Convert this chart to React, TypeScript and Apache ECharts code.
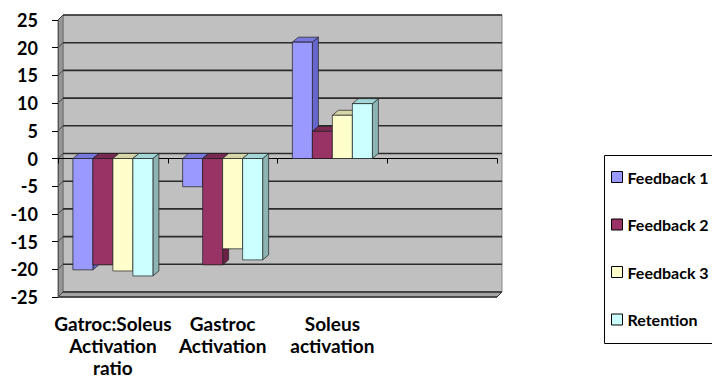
import React, { useEffect, useRef } from 'react';
import * as echarts from 'echarts';

const categories = ['Gatroc:Soleus\nActivation\nratio', 'Gastroc\nActivation', 'Soleus\nactivation', ''];
const seriesNames = ['Feedback 1', 'Feedback 2', 'Feedback 3', 'Retention'];
const feedback1 = [-20.1, -5.1, 21.0];
const feedback2 = [-19.2, -19.2, 4.9];
const feedback3 = [-20.3, -16.3, 7.8];
const retention = [-21.2, -18.3, 9.9];
const yTicks = [-25, -20, -15, -10, -5, 0, 5, 10, 15, 20, 25];

const seriesValues = [feedback1, feedback2, feedback3, retention];
const frontColors = ['#9999FF', '#993366', '#FFFFCC', '#CCFFFF'];
const sideColors = ['#6666CC', '#6A2346', '#BDBD96', '#8DB3B3'];
const topColors = ['#7777DD', '#7A2A52', '#D6D6A8', '#A3D6D6'];

const FONT = 'Lato, "Open Sans", sans-serif';
const WDX = 5, WDY = 5; // wall depth
const BDX = 6, BDY = 5; // bar depth
const BAR_FRAC = 20 / 109.75;

export default function App() {
  const ref = useRef<HTMLDivElement>(null);
  useEffect(() => {
    if (!ref.current) return;
    const chart = echarts.init(ref.current, null, { renderer: 'svg' });

    const wallSeries: any = {
      type: 'custom',
      name: 'walls',
      silent: true,
      z: -1,
      xAxisIndex: 0,
      yAxisIndex: 0,
      data: [[0, 0]],
      renderItem: (params: any, api: any) => {
        const cs = params.coordSys;
        const x0 = cs.x, x1 = cs.x + cs.width, yT = cs.y, yB = cs.y + cs.height;
        const children: any[] = [
          { type: 'rect', shape: { x: x0 + WDX, y: yT - WDY, width: cs.width, height: cs.height }, style: { fill: '#C0C0C0', stroke: '#8A8A8A', lineWidth: 1 } },
          { type: 'polygon', shape: { points: [[x0, yT], [x0 + WDX, yT - WDY], [x0 + WDX, yB - WDY], [x0, yB]] }, style: { fill: '#969696', stroke: '#6E6E6E', lineWidth: 1 } },
          { type: 'polygon', shape: { points: [[x0, yB], [x0 + WDX, yB - WDY], [x1 + WDX, yB - WDY], [x1, yB]] }, style: { fill: '#A4A4A4', stroke: '#7A7A7A', lineWidth: 1 } },
        ];
        yTicks.forEach((v) => {
          const y = api.coord([0, v])[1];
          children.push({ type: 'line', shape: { x1: x0 + WDX, y1: y - WDY, x2: x1 + WDX, y2: y - WDY }, style: { stroke: '#2B2B2B', lineWidth: 1.6 } });
          children.push({ type: 'line', shape: { x1: x0, y1: y, x2: x0 + WDX, y2: y - WDY }, style: { stroke: '#444', lineWidth: 1 } });
        });
        children.push({ type: 'line', shape: { x1: x0, y1: yB, x2: x1, y2: yB }, style: { stroke: '#333', lineWidth: 1.5 } });
        children.push({ type: 'line', shape: { x1: x1, y1: yB, x2: x1 + WDX, y2: yB - WDY }, style: { stroke: '#333', lineWidth: 1 } });
        return { type: 'group', children };
      },
    };

    const barSeries = seriesNames.map((name, i) => ({
      type: 'custom',
      name,
      z: 2,
      xAxisIndex: 0,
      yAxisIndex: 0,
      itemStyle: { color: frontColors[i] },
      data: seriesValues[i].map((v, k) => [k, v]),
      encode: { x: 0, y: 1 },
      renderItem: (params: any, api: any) => {
        const cat = api.value(0);
        const val = api.value(1);
        const c = api.coord([cat, val]);
        const z0 = api.coord([cat, 0]);
        const bw = api.size([1, 0])[0] * BAR_FRAC;
        const xL = c[0] - 2 * bw + i * bw;
        const xR = xL + bw;
        const yTop = Math.min(c[1], z0[1]);
        const yBot = Math.max(c[1], z0[1]);
        const st = { stroke: '#1E1E1E', lineWidth: 0.7 };
        return {
          type: 'group',
          children: [
            { type: 'polygon', shape: { points: [[xR, yTop], [xR + BDX, yTop - BDY], [xR + BDX, yBot - BDY], [xR, yBot]] }, style: { fill: sideColors[i], ...st } },
            { type: 'polygon', shape: { points: [[xL, yTop], [xL + BDX, yTop - BDY], [xR + BDX, yTop - BDY], [xR, yTop]] }, style: { fill: topColors[i], ...st } },
            { type: 'rect', shape: { x: xL, y: yTop, width: bw, height: yBot - yTop }, style: { fill: frontColors[i], ...st } },
          ],
        };
      },
    }));

    chart.setOption({
      animation: false,
      backgroundColor: '#FFFFFF',
      grid: { left: 58, right: 215, top: 20, bottom: 81, containLabel: false, outerBoundsMode: 'none' },
      xAxis: [
        {
          type: 'category',
          data: categories,
          position: 'bottom',
          axisLine: { show: false, onZero: false },
          axisTick: { show: false },
          axisLabel: { interval: 0, fontFamily: FONT, fontWeight: 'bold', fontSize: 19, lineHeight: 22, color: '#000', margin: 15 },
        },
        {
          type: 'category',
          data: categories,
          position: 'bottom',
          axisLine: { show: true, onZero: true, lineStyle: { color: '#000', width: 1 } },
          axisTick: { show: true, length: 5, lineStyle: { color: '#000' } },
          axisLabel: { show: false },
        },
      ],
      yAxis: {
        type: 'value',
        min: -25,
        max: 25,
        interval: 5,
        axisLine: { show: true, lineStyle: { color: '#555' } },
        axisTick: { show: true, length: 6, lineStyle: { color: '#000' } },
        axisLabel: { fontFamily: FONT, fontWeight: 'bold', fontSize: 18, color: '#000', margin: 20 },
        splitLine: { show: false },
      },
      legend: {
        orient: 'vertical',
        left: 611,
        top: 169,
        padding: 0,
        itemWidth: 11,
        itemHeight: 11,
        itemGap: 31.5,
        textStyle: { fontFamily: FONT, fontWeight: 'bold', fontSize: 16, lineHeight: 16, color: '#000' },
        data: seriesNames.map((n, i) => ({ name: n, icon: 'rect', itemStyle: { color: frontColors[i], borderColor: '#000', borderWidth: 1 } })),
      },
      graphic: [
        { type: 'rect', left: 602, top: 153, shape: { width: 130, height: 188 }, style: { fill: 'none', stroke: '#000', lineWidth: 1 }, silent: true },
      ],
      series: [wallSeries, ...barSeries],
    });

    return () => chart.dispose();
  }, []);

  return <div ref={ref} style={{ position: 'fixed', left: 0, top: 0, width: 712, height: 378 }} />;
}
